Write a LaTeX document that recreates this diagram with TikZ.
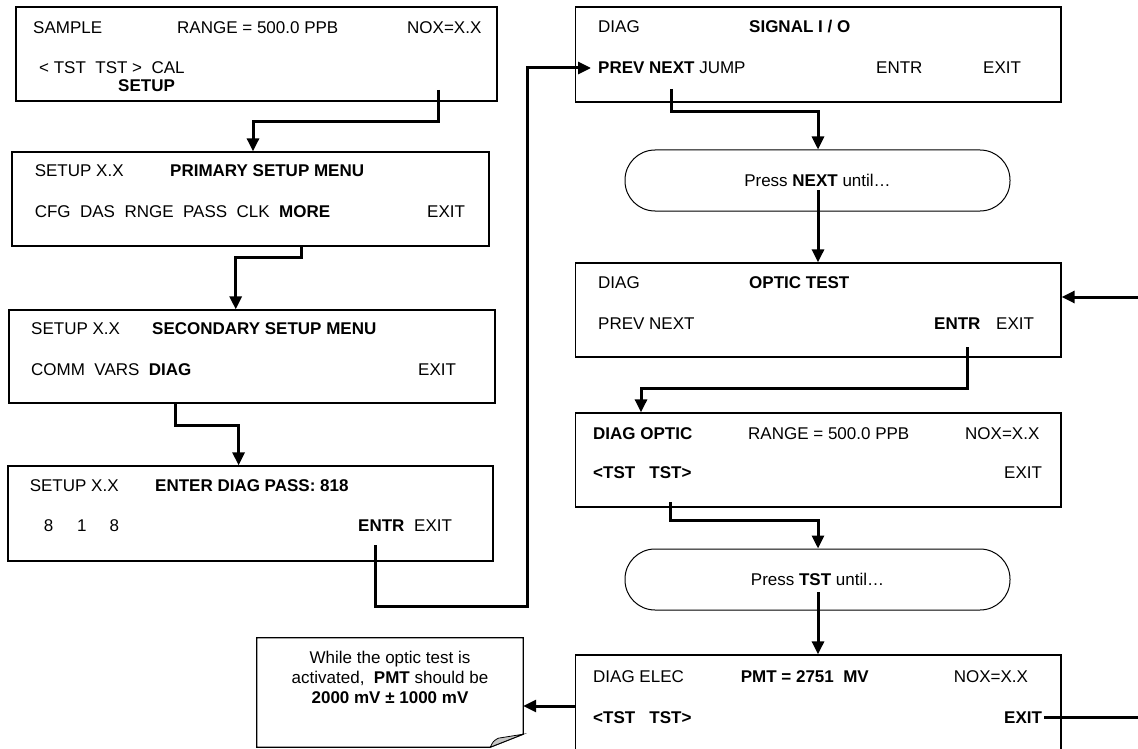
\documentclass[tikz,border=0pt]{standalone}
\usepackage{fontspec}
\setmainfont{Liberation Sans}
\usetikzlibrary{arrows.meta,calc}
\newcommand{\myfs}{\fontsize{17}{20}\selectfont}
\begin{document}
\begin{tikzpicture}[x=1pt,y=-1pt,
  box/.style={draw, line width=1.3pt, inner sep=0pt, rectangle},
  rbox/.style={draw, line width=1pt, rounded corners=30pt, inner sep=0pt, font=\myfs},
  tx/.style={anchor=base west, inner sep=0pt, font=\myfs},
  conn/.style={line width=3pt, -{Triangle[length=13pt,width=12pt]}},
  plain/.style={line width=3pt}]
\useasboundingbox (0,0) rectangle (1138,749);
\clip (0,0) rectangle (1138,749);

% ---------- left column boxes
\node[box, minimum width=481pt, minimum height=94pt] (b1) at (256.5,54) {};
\node[box, minimum width=477pt, minimum height=94pt] (b2) at (250.5,199) {};
\node[box, minimum width=486pt, minimum height=93pt] (b3) at (252,356.5) {};
\node[box, minimum width=485pt, minimum height=95pt] (b4) at (250.5,513.5) {};

% box 1 texts
\node[tx] (t1a) at (33,34) {SAMPLE};
\node[tx] (t1b) at (177,34) {RANGE = 500.0 PPB};
\node[tx] (t1c) at (407,34) {NOX=X.X};
\node[tx] (t1d) at (39,74) {< TST~~TST >~~CAL};
\node[tx] (t1e) at (118,92) {\textbf{SETUP}};

% box 2 texts
\node[tx] (t2a) at (34.6,176) {SETUP X.X};
\node[tx] (t2b) at (170,176) {\textbf{PRIMARY SETUP MENU}};
\node[tx] (t2c) at (34.6,217) {CFG~~DAS~~RNGE~~PASS~~CLK~~\textbf{MORE}};
\node[tx] (t2d) at (427,217) {EXIT};

% box 3 texts
\node[tx] (t3a) at (31,334) {SETUP X.X};
\node[tx] (t3b) at (152,334) {\textbf{SECONDARY SETUP MENU}};
\node[tx] (t3c) at (31,375) {COMM~~VARS~~\textbf{DIAG}};
\node[tx] (t3d) at (418,375) {EXIT};

% box 4 texts
\node[tx] (t4a) at (29.6,491) {SETUP X.X};
\node[tx] (t4b) at (155,491) {\textbf{ENTER DIAG PASS: 818}};
\node[tx] (t4c) at (43.6,531) {8\hspace{24pt}1\hspace{23pt}8};
\node[tx] (t4d) at (358,531) {\textbf{ENTR}};
\node[tx] (t4e) at (414,531) {EXIT};

% ---------- right column boxes
\node[box, minimum width=485.5pt, minimum height=95pt] (b5) at (818.25,54.5) {};
\node[rbox, minimum width=385pt, minimum height=61pt] (r1) at (817.5,180.5) {Press \textbf{NEXT} until…};
\node[box, minimum width=485.5pt, minimum height=94pt] (b6) at (818.25,310) {};
\node[box, minimum width=485.5pt, minimum height=94pt] (b7) at (818.25,460) {};
\node[rbox, minimum width=385pt, minimum height=61pt] (r2) at (817.5,579.5) {Press \textbf{TST} until…};
\node[box, minimum width=485.5pt, minimum height=114pt] (b8) at (818.25,712) {};

% box 5 texts
\node[tx] (t5a) at (598,33) {DIAG};
\node[tx] (t5b) at (749,33) {\textbf{SIGNAL I / O}};
\node[tx] (t5c) at (598,74) {\textbf{PREV NEXT} JUMP};
\node[tx] (t5d) at (876,74) {ENTR};
\node[tx] (t5e) at (983,74) {EXIT};

% box 6 texts
\node[tx] (t6a) at (598,288) {DIAG};
\node[tx] (t6b) at (749,288) {\textbf{OPTIC TEST}};
\node[tx] (t6c) at (598,329) {PREV NEXT};
\node[tx] (t6d) at (934,329) {\textbf{ENTR}};
\node[tx] (t6e) at (996,329) {EXIT};

% box 7 texts
\node[tx] (t7a) at (593,439) {\textbf{DIAG OPTIC}};
\node[tx] (t7b) at (748,439) {RANGE = 500.0 PPB};
\node[tx] (t7c) at (965,439) {NOX=X.X};
\node[tx] (t7d) at (593,478) {\textbf{<TST~~~TST>}};
\node[tx] (t7e) at (1004,478) {EXIT};

% box 8 texts
\node[tx] (t8a) at (593,682) {DIAG ELEC};
\node[tx] (t8b) at (740.6,682) {\textbf{PMT = 2751~~MV}};
\node[tx] (t8c) at (953.6,682) {NOX=X.X};
\node[tx] (t8d) at (593,723) {\textbf{<TST~~~TST>}};
\node[tx] (t8e) at (1004,723) {\textbf{EXIT}};

% ---------- note
\node[minimum width=266pt, minimum height=109pt, inner sep=0pt] (note) at (390,692.5) {};
\draw[line width=1.2pt] (note.north west) -- (note.north east) -- ($(note.south east)+(0,-13)$)
  -- ($(note.south east)+(-33,0)$) -- (note.south west) -- cycle;
\draw[line width=0.8pt, fill=gray!45] ($(note.south east)+(-33,0)$)
  .. controls ($(note.south east)+(-30,-6)$) .. ($(note.south east)+(-25,-9)$)
  -- ($(note.south east)+(0,-13)$) -- cycle;
\node[font=\myfs, align=center, inner sep=0pt] (nt) at (390,677)
  {While the optic test is\\activated,~~\textbf{PMT} should be\\\textbf{2000 mV ± 1000 mV}};

% ---------- connectors
\coordinate (c1s) at (438,90);
\coordinate (c1a) at (253,122);
\draw[conn] (c1s) |- (c1a) -- (c1a |- b2.north);

\coordinate (c2s) at (301,246);
\coordinate (c2a) at (235.7,257);
\draw[conn] (c2s |- b2.south) |- (c2a) -- (c2a |- b3.north);

\coordinate (c3s) at (175,403);
\coordinate (c3a) at (238.6,425);
\draw[conn] (c3s |- b3.south) |- (c3a) -- (c3a |- b4.north);

\coordinate (c4s) at (375.7,545);
\coordinate (c4a) at (527.7,606);
\coordinate (c4e) at (591,68);
\draw[conn] (c4s) |- (c4a) |- (c4e);

\coordinate (c5s) at (671.7,89);
\coordinate (c5a) at (818,112);
\draw[conn] (c5s) |- (c5a) -- (c5a |- r1.north);

\coordinate (c6s) at (818,190);
\draw[conn] (c6s) -- (c6s |- b6.north);

\coordinate (in6) at (1138,297);
\draw[conn] (in6) -- (in6 -| b6.east);

\coordinate (c7s) at (967,347);
\coordinate (c7a) at (641,388);
\draw[conn] (c7s) |- (c7a) -- (c7a |- b7.north);

\coordinate (c8s) at (670,502);
\coordinate (c8a) at (818,520);
\draw[conn] (c8s) |- (c8a) -- (c8a |- r2.north);

\coordinate (c9s) at (818,592);
\draw[conn] (c9s) -- (c9s |- b8.north);

\coordinate (out8) at (1138,716);
\draw[plain] ($(t8e.east)+(2,0)$) -- (t8e.east -| out8);

\coordinate (l8) at (575.5,706);
\draw[conn] (l8 -| b8.west) -- (l8 -| note.east);
\end{tikzpicture}
\end{document}
